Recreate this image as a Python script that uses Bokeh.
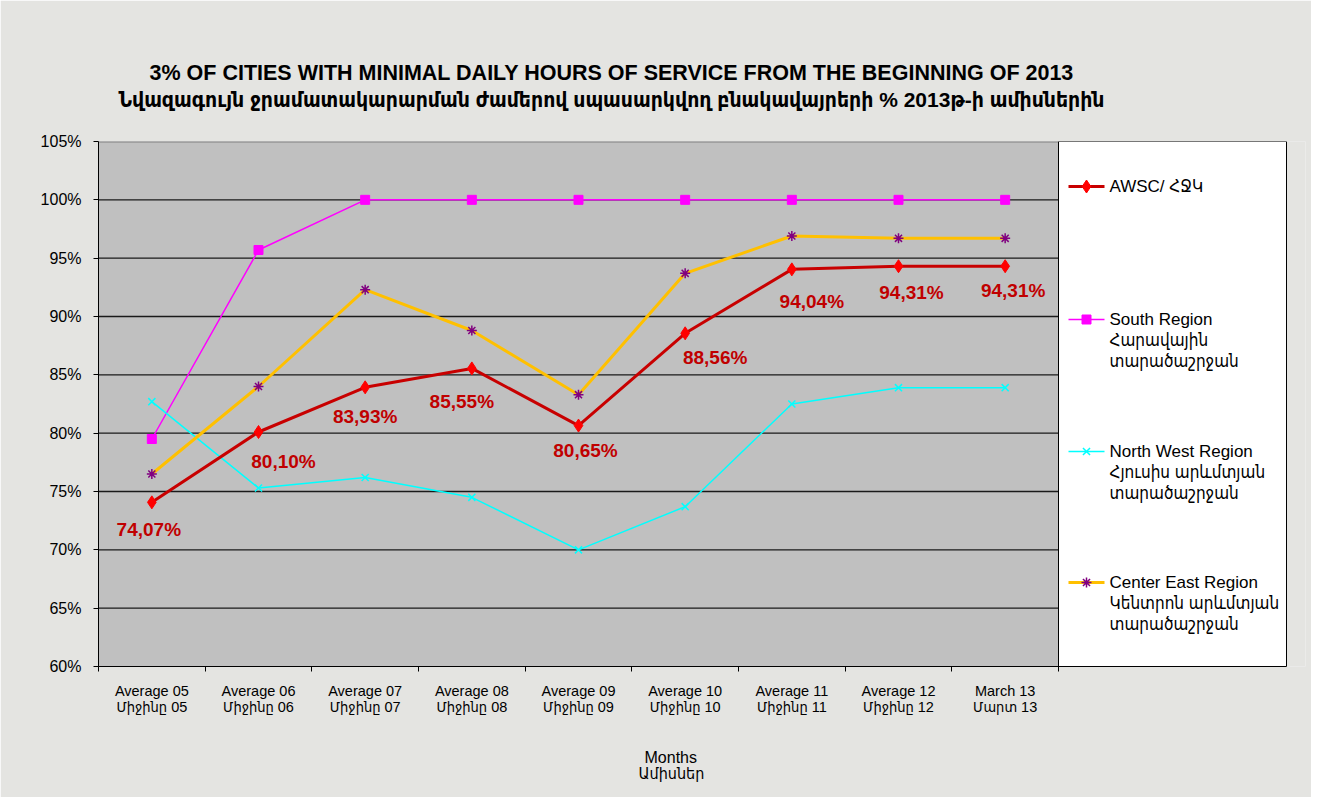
from bokeh.plotting import figure
from bokeh.models import Range1d, FixedTicker, ColumnDataSource, Title
from bokeh.embed import file_html
from bokeh.resources import INLINE

# ---------------- data ----------------
categories = ["Average 05\nՄիջինը 05", "Average 06\nՄիջինը 06", "Average 07\nՄիջինը 07",
              "Average 08\nՄիջինը 08", "Average 09\nՄիջինը 09", "Average 10\nՄիջինը 10",
              "Average 11\nՄիջինը 11", "Average 12\nՄիջինը 12", "March 13\nՄարտ 13"]
awsc = [74.07, 80.10, 83.93, 85.55, 80.65, 88.56, 94.04, 94.31, 94.31]
south = [79.5, 95.7, 100, 100, 100, 100, 100, 100, 100]
north_west = [82.7, 75.3, 76.2, 74.5, 70.0, 73.7, 82.5, 83.9, 83.9]
center_east = [76.5, 84.0, 92.3, 88.8, 83.3, 93.7, 96.9, 96.7, 96.7]
awsc_labels = ["74,07%", "80,10%", "83,93%", "85,55%", "80,65%", "88,56%", "94,04%", "94,31%", "94,31%"]
y_ticks = [60, 65, 70, 75, 80, 85, 90, 95, 100, 105]
y_tick_labels = ["60%", "65%", "70%", "75%", "80%", "85%", "90%", "95%", "100%", "105%"]

title1 = "3% OF CITIES WITH MINIMAL DAILY HOURS OF SERVICE FROM THE BEGINNING OF 2013"
title2 = "Նվազագույն ջրամատակարարման ժամերով սպասարկվող բնակավայրերի % 2013թ-ի  ամիսներին"
x_title = ["Months", "Ամիսներ"]
legend_names = [["AWSC/ ՀՋԿ"],
                ["South Region", "Հարավային", "տարածաշրջան"],
                ["North West Region", "Հյուսիս արևմտյան", "տարածաշրջան"],
                ["Center East Region", "Կենտրոն արևմտյան", "տարածաշրջան"]]

# ---------------- layout ----------------
FONT = "Liberation Sans, DejaVu Sans Condensed, DejaVu Sans, sans-serif"
BG = "#e4e4e1"
W, H = 1311, 797
FL, FT = 98, 141            # frame left / top
FR, FB = 1305, 666          # frame right / bottom
FW, FH = FR - FL, FB - FT
PLOT_W = 960                # width of gray plot area
LEG_R = 1286                # right edge of legend box
n = len(categories)
x_end = n * FW / PLOT_W
y0, y1 = 60, 105

p = figure(width=W, height=H, output_backend="svg", toolbar_location=None,
           x_range=Range1d(0, x_end), y_range=Range1d(y0, y1),
           min_border_left=FL, min_border_right=W - FR,
           min_border_top=FT, min_border_bottom=H - FB)
p.border_fill_color = BG
p.background_fill_color = BG
p.outline_line_color = None
p.xgrid.visible = False
p.ygrid.visible = False

# canvas px -> data
def px_x(px):
    return (px - FL) / FW * x_end

def px_y(py):
    return y1 - (py - FT) / FH * (y1 - y0)

xs = [i + 0.5 for i in range(n)]

# plot area
p.quad(left=0, right=n, bottom=y0, top=y1, fill_color="#c0c0c0", line_color=None)
grid_y = y_ticks[1:-1]
p.segment(x0=[0] * len(grid_y), x1=[n] * len(grid_y), y0=grid_y, y1=grid_y,
          line_color="#1a1a1a", line_width=1.4)
p.segment(x0=[0], x1=[n], y0=[y1], y1=[y1], line_color="#808080", line_width=2)

# series
p.line(xs, south, line_color="#ff00ff", line_width=1.5)
p.scatter(xs, south, marker="square", size=9, fill_color="#ff00ff", line_color="#ff00ff")
p.line(xs, north_west, line_color="#00ffff", line_width=1.5)
p.scatter(xs, north_west, marker="x", size=10, line_color="#00ffff", line_width=1.5)
p.line(xs, center_east, line_color="#ffc000", line_width=3)
p.scatter(xs, center_east, marker="asterisk", size=10, line_color="#800080", line_width=1.5)
p.line(xs, awsc, line_color="#c80000", line_width=3)
p.scatter(xs, awsc, marker="diamond", size=13, fill_color="#ff0000", line_color="#ff0000")

# AWSC data labels (screen offsets from their points)
lbl_dx = [-3, 25, 0, -10, 7, 30, 20, 13, 8]
lbl_dy = [27, 29, 29, 33, 25, 24, 32, 26, 24]
src = ColumnDataSource(dict(x=xs, y=awsc, t=awsc_labels, dx=lbl_dx, dy=lbl_dy))
p.text(x="x", y="y", text="t", x_offset="dx", y_offset="dy", source=src,
       text_align="center", text_baseline="middle", text_color="#c00000",
       text_font_size="19px", text_font_style="bold", text_font={"value": FONT})

# legend box
p.quad(left=n, right=px_x(LEG_R), bottom=y0, top=y1, fill_color="white",
       line_color="black", line_width=1)
leg_y = [186, 319, 451, 582]   # canvas px of first text line of each entry
leg_colors = ["#c80000", "#ff00ff", "#00ffff", "#ffc000"]
for i, (names, yy) in enumerate(zip(legend_names, leg_y)):
    ly = px_y(yy)
    p.line([px_x(1068), px_x(1104)], [ly, ly], line_color=leg_colors[i],
           line_width=3 if i in (0, 3) else 1.5)
    mx = px_x(1086)
    if i == 0:
        p.scatter([mx], [ly], marker="diamond", size=13, fill_color="#ff0000", line_color="#ff0000")
    elif i == 1:
        p.scatter([mx], [ly], marker="square", size=9, fill_color="#ff00ff", line_color="#ff00ff")
    elif i == 2:
        p.scatter([mx], [ly], marker="x", size=10, line_color="#00ffff", line_width=1.5)
    else:
        p.scatter([mx], [ly], marker="asterisk", size=10, line_color="#800080", line_width=1.5)
    for k, name in enumerate(names):
        p.text([px_x(1109)], [px_y(yy + 21 * k)], text=[name], text_align="left",
               text_baseline="middle", text_color="black", text_font_size="17px",
               text_font={"value": FONT})

# axes
p.yaxis.ticker = FixedTicker(ticks=y_ticks)
p.yaxis.major_label_overrides = {t: l for t, l in zip(y_ticks, y_tick_labels)}
p.yaxis.major_tick_in = 0
p.yaxis.major_tick_out = 5
p.yaxis.minor_tick_out = 0
p.yaxis.minor_tick_in = 0
p.yaxis.major_label_text_font = FONT
p.yaxis.major_label_text_font_size = "16px"
p.yaxis.major_label_text_color = "black"
p.yaxis.major_label_standoff = 12
p.yaxis.axis_line_color = "black"
p.yaxis.major_tick_line_color = "black"

p.xaxis.ticker = FixedTicker(ticks=xs, minor_ticks=list(range(n + 1)))
p.xaxis.major_label_overrides = {x: c for x, c in zip(xs, categories)}
p.xaxis.bounds = (0, px_x(LEG_R))
p.xaxis.major_tick_in = 0
p.xaxis.major_tick_out = 0
p.xaxis.minor_tick_in = 0
p.xaxis.minor_tick_out = 5
p.xaxis.minor_tick_line_color = "black"
p.xaxis.major_label_text_font = FONT
p.xaxis.major_label_text_font_size = "14.5px"
p.xaxis.major_label_text_line_height = 1.05
p.xaxis.major_label_text_color = "black"
p.xaxis.major_label_standoff = 11
p.xaxis.axis_line_color = "black"

# titles (left aligned, shifted so that they are centred near x=611 / x=670)
p.add_layout(Title(text=title2, align="left", offset=20, standoff=61,
                   text_font=FONT, text_font_size="21px", text_font_style="bold",
                   text_color="black"), "above")
p.add_layout(Title(text=title1, align="left", offset=51, standoff=-59,
                   text_font=FONT, text_font_size="21.5px", text_font_style="bold",
                   text_color="black"), "above")
p.add_layout(Title(text=x_title[0], align="left", offset=546, standoff=56,
                   text_font=FONT, text_font_size="16px", text_font_style="normal",
                   text_color="black"), "below")
p.add_layout(Title(text=x_title[1], align="left", offset=540, standoff=-58,
                   vertical_align="top",
                   text_font=FONT, text_font_size="16px", text_font_style="normal",
                   text_color="black"), "below")

open("out.html", "w").write(file_html(p, INLINE))
